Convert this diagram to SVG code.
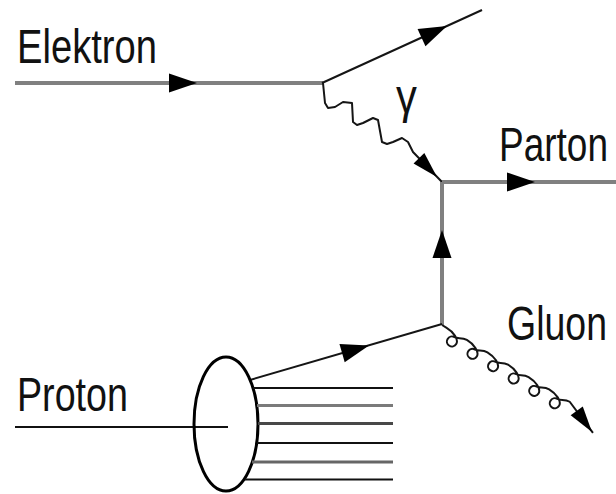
<svg xmlns="http://www.w3.org/2000/svg" xmlns:xlink="http://www.w3.org/1999/xlink" width="616" height="494" viewBox="0 0 616 494">
  <style>
    .lbl { font-family: "Liberation Sans", Arial, sans-serif; font-size: 48px; fill: #111; }
    .thin { fill: none; stroke: #151515; stroke-width: 2; stroke-linecap: butt; stroke-linejoin: round; }
    .grey { fill: none; stroke: #808080; stroke-width: 4; }
    .ah { fill: #000; }
  </style>
  <defs>
    <!-- arrowhead, tip at origin, pointing along +x -->
    <path id="ah" d="M0 0 L-28 -9.5 L-28 9.5 Z"/>
    <path id="ahs" d="M0 0 L-26 -7.5 L-26 7.5 Z"/>
  </defs>

  <rect width="616" height="494" fill="#fff"/>

  <g id="connectors">
    <!-- incoming electron -->
    <line class="grey" x1="15" y1="83" x2="323" y2="83" stroke="#777" stroke-width="3.5"/>
    <use href="#ah" class="ah" transform="translate(197,83)"/>
    <!-- scattered electron -->
    <line class="thin" x1="322" y1="83" x2="482" y2="10"/>
    <use href="#ah" class="ah" transform="translate(447,26) rotate(-24.5)"/>
    <!-- photon -->
    <path class="thin" d="M323 83 L325 103 L328 108 L335 107 L343 102 L352 103 L353 122 L357 125 L363 123 L373 118 L378 120 L382 142 L387 144 L393 142 L402 138 L408 142 L413 152 L442 182"/>
    <use href="#ahs" class="ah" transform="translate(437,177) rotate(46)"/>
    <!-- outgoing parton -->
    <line class="grey" x1="442" y1="182" x2="616" y2="182"/>
    <use href="#ah" class="ah" transform="translate(535,182)"/>
    <!-- exchanged quark line -->
    <line class="grey" x1="442" y1="182" x2="442" y2="325"/>
    <use href="#ah" class="ah" transform="translate(442,230) rotate(-90)"/>
    <!-- quark from proton -->
    <line class="thin" x1="250" y1="380" x2="442" y2="324"/>
    <use href="#ah" class="ah" transform="translate(369,345.5) rotate(-16)"/>
    <!-- gluon: straight axis at 31 degrees, loops hanging below it -->
    <g transform="translate(442,325) rotate(31)">
      <path class="thin" stroke-width="1.8" d="M0 0 L5 0
        C13 0 22 3.5 22 9 A5 5 0 1 1 17 4 C21 4 23 0 29 0
        C37 0 46 3.5 46 9 A5 5 0 1 1 41 4 C45 4 47 0 53 0
        C61 0 70 3.5 70 9 A5 5 0 1 1 65 4 C69 4 71 0 77 0
        C85 0 94 3.5 94 9 A5 5 0 1 1 89 4 C93 4 95 0 101 0
        C109 0 118 3.5 118 9 A5 5 0 1 1 113 4 C117 4 119 0 125 0
        C133 0 142 3.5 142 9 A5 5 0 1 1 137 4 C141 4 143 0 149 0
        L185 14.8"/>
    </g>
    <use href="#ahs" class="ah" transform="translate(592,432) rotate(54)"/>
  </g>

  <g id="proton">
    <line x1="15" y1="427" x2="228" y2="427" stroke="#111" stroke-width="2"/>
    <ellipse cx="226" cy="424" rx="32" ry="67" fill="none" stroke="#000" stroke-width="3"/>
    <!-- remnant partons -->
    <line x1="253" y1="388" x2="393" y2="388" stroke="#111" stroke-width="2.2"/>
    <line x1="257" y1="405.5" x2="393" y2="405.5" stroke="#7a7a7a" stroke-width="3"/>
    <line x1="258" y1="423.5" x2="393" y2="423.5" stroke="#484848" stroke-width="3"/>
    <line x1="257" y1="443" x2="393" y2="443" stroke="#111" stroke-width="2.2"/>
    <line x1="252" y1="462" x2="393" y2="462" stroke="#666" stroke-width="3"/>
    <line x1="245" y1="479.5" x2="393" y2="479.5" stroke="#111" stroke-width="2.2"/>
  </g>

  <!-- labels use a horizontally condensed sans -->
  <g id="label-elektron">
    <text class="lbl" transform="translate(17,63) scale(0.795,1)">Elektron</text>
  </g>
  <g id="label-gamma">
    <text class="lbl" transform="translate(396,113) scale(0.87,1)">γ</text>
  </g>
  <g id="label-parton">
    <text class="lbl" transform="translate(499,161) scale(0.771,1)">Parton</text>
  </g>
  <g id="label-gluon">
    <text class="lbl" transform="translate(507,340) scale(0.781,1)">Gluon</text>
  </g>
  <g id="label-proton">
    <text class="lbl" transform="translate(17,411) scale(0.785,1)">Proton</text>
  </g>
</svg>
